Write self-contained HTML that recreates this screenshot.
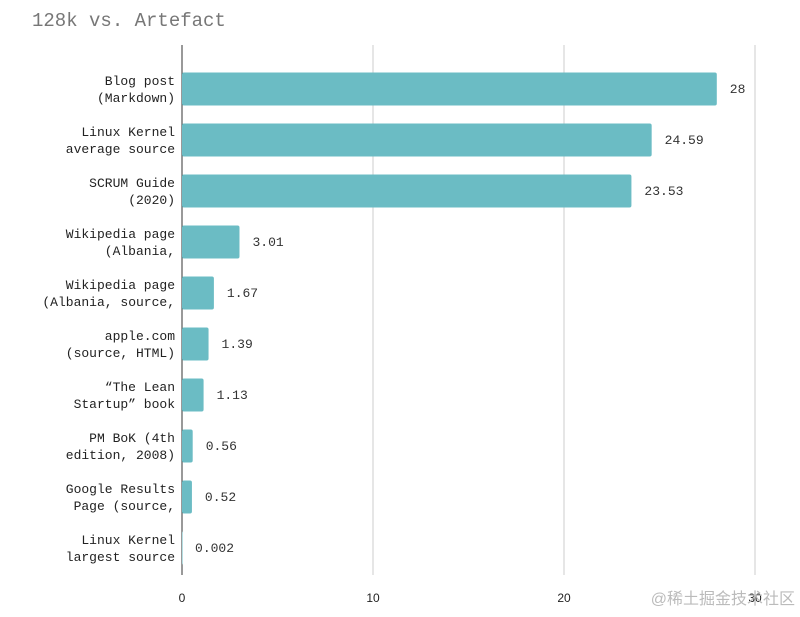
<!DOCTYPE html>
<html><head><meta charset="utf-8">
<style>
body{margin:0;background:#fff;width:800px;height:612px;overflow:hidden;font-family:"Liberation Mono",monospace;}
</style></head>
<body>
<svg id="chart" width="800" height="612" xmlns="http://www.w3.org/2000/svg">
<text x="32" y="26" font-family="Liberation Mono, monospace" font-size="19" fill="#777">128k vs. Artefact</text>
<g id="grid"></g><g id="bars"></g><g id="labels"></g>
<text x="795" y="604" text-anchor="end" font-family="Liberation Sans, Noto Sans CJK SC, sans-serif" font-size="16" fill="#bbb">@稀土掘金技术社区</text>
</svg>
<script>
const categories=[["Blog post","(Markdown)"],["Linux Kernel","average source"],["SCRUM Guide","(2020)"],["Wikipedia page","(Albania,"],["Wikipedia page","(Albania, source,"],["apple.com","(source, HTML)"],["“The Lean","Startup” book"],["PM BoK (4th","edition, 2008)"],["Google Results","Page (source,"],["Linux Kernel","largest source"]];
const values=[28,24.59,23.53,3.01,1.67,1.39,1.13,0.56,0.52,0.002];
const valueLabels=["28","24.59","23.53","3.01","1.67","1.39","1.13","0.56","0.52","0.002"];
const ticks=[0,10,20,30];
const NS="http://www.w3.org/2000/svg";
const x0=182,pxPer=19.1,topY=63.5,band=51,bh=33,bottomY=575;
const xs=v=>x0+v*pxPer;
const yc=i=>topY+band*i+band/2;
function mk(t,a,p){const e=document.createElementNS(NS,t);for(const k in a)e.setAttribute(k,a[k]);p.appendChild(e);return e;}
const grid=document.getElementById('grid'),bars=document.getElementById('bars'),labels=document.getElementById('labels');
ticks.forEach(t=>{
 const l=mk('line',{x1:xs(t),x2:xs(t),y1:45,y2:bottomY,stroke:t===0?'#333':'#ccc','stroke-width':1},grid);
 
 
 const tx=mk('text',{x:xs(t),y:602,'text-anchor':'middle','font-family':'Liberation Sans, sans-serif','font-size':12,fill:'#222'},grid);
 tx.textContent=t;
 
 
});
values.forEach((v,i)=>{
 const r=mk('rect',{x:xs(0),y:yc(i)-bh/2,width:Math.max(v*pxPer,0.5),height:bh,rx:2,fill:'#6bbcc4'},bars);
 
 
 const vt=mk('text',{x:xs(v)+13,y:yc(i)+4,'font-size':13,fill:'#333','font-family':'Liberation Mono, monospace'},labels);
 vt.textContent=valueLabels[i];
 
 
 categories[i].forEach((line,j)=>{
  const ct=mk('text',{x:175,y:yc(i)-4+j*17,'text-anchor':'end','font-size':13,fill:'#222','font-family':'Liberation Mono, monospace'},labels);
  ct.textContent=line;
  
  
 });
});
</script>
</body></html>
